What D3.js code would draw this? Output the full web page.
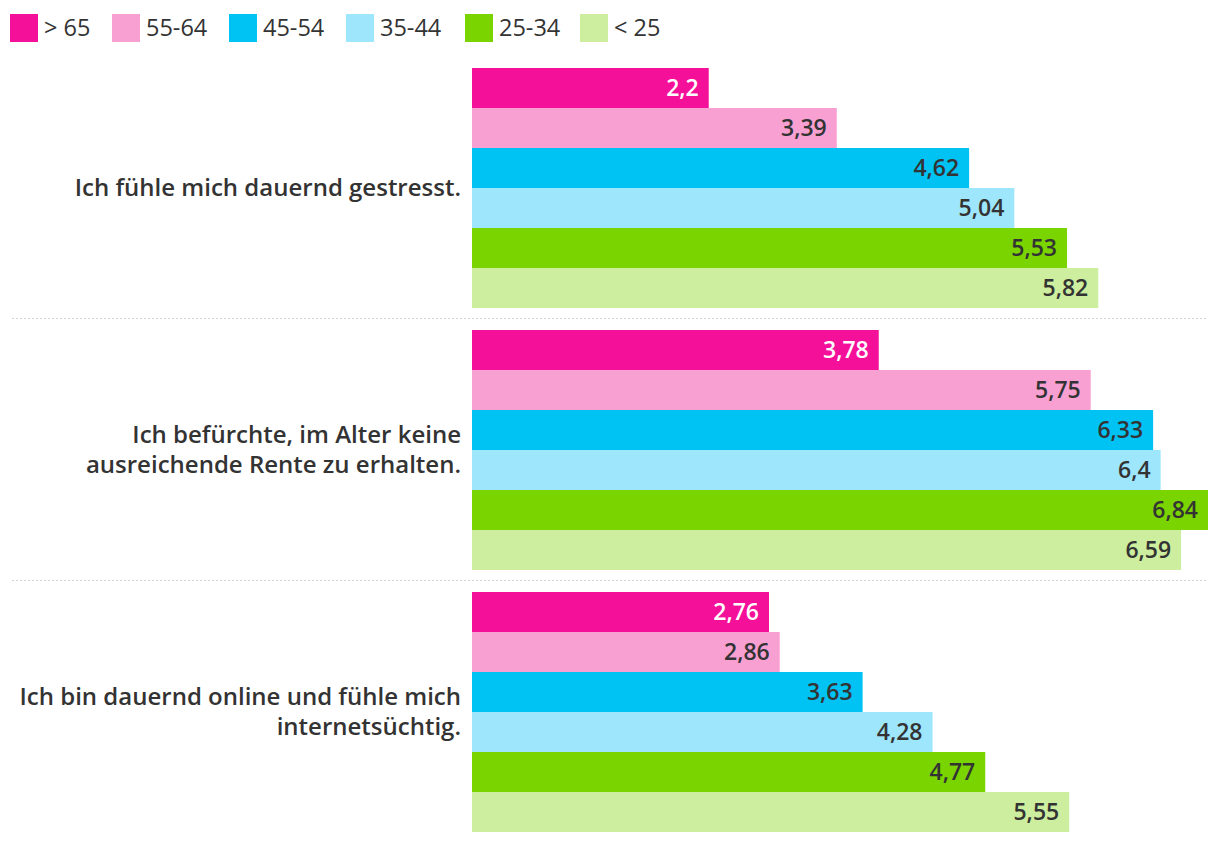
<!DOCTYPE html>
<html><head><meta charset="utf-8">
<script src="https://cdn.jsdelivr.net/npm/d3@7"></script>
<style>body{margin:0;background:#fff;font-family:"Open Sans",sans-serif;}</style>
</head><body>
<svg id="chart" width="1220" height="844"></svg>
<script>
const categories = [
  ["Ich fühle mich dauernd gestresst."],
  ["Ich befürchte, im Alter keine", "ausreichende Rente zu erhalten."],
  ["Ich bin dauernd online und fühle mich", "internetsüchtig."]
];
const seriesNames = ["> 65", "55-64", "45-54", "35-44", "25-34", "< 25"];
const seriesColors = ["#f5109a", "#f9a0d3", "#00c2f3", "#9ee6fc", "#7ad400", "#ccee9e"];
const valuesGt65 = [2.2, 3.78, 2.76];
const values5564 = [3.39, 5.75, 2.86];
const values4554 = [4.62, 6.33, 3.63];
const values3544 = [5.04, 6.4, 4.28];
const values2534 = [5.53, 6.84, 4.77];
const valuesLt25 = [5.82, 6.59, 5.55];
const seriesValues = [valuesGt65, values5564, values4554, values3544, values2534, valuesLt25];

const svg = d3.select("#chart");
const x = d3.scaleLinear().domain([0, 6.84]).range([472, 1208]);
const groupH = 240;
const y0 = d3.scaleBand().domain(d3.range(categories.length)).range([68, 68 + 262 * 3]);
const y1 = d3.scaleBand().domain(d3.range(seriesNames.length)).range([0, groupH]);

// legend
const legendX = [10, 112, 229, 346, 465, 580];
const lg = svg.append("g");
seriesNames.forEach((n, i) => {
  lg.append("rect").attr("x", legendX[i]).attr("y", 14).attr("width", 28).attr("height", 28).attr("fill", seriesColors[i]);
  lg.append("text").attr("x", legendX[i] + 34).attr("y", 36).attr("font-size", 23.5).attr("fill", "#333").text(n);
});

// separators
[0, 1].forEach(i => {
  const yy = y0(i) + groupH + 10.5;
  svg.append("line").attr("x1", 12).attr("x2", 1208).attr("y1", yy).attr("y2", yy)
    .attr("stroke", "#d4d4d4").attr("stroke-width", 1).attr("stroke-dasharray", "2,2");
});

categories.forEach((lines, ci) => {
  const g = svg.append("g").attr("transform", `translate(0,${y0(ci)})`);
  seriesNames.forEach((s, si) => {
    const v = seriesValues[si][ci];
    g.append("rect").attr("x", x(0)).attr("y", y1(si)).attr("width", x(v) - x(0)).attr("height", y1.bandwidth())
      .attr("fill", seriesColors[si]);
    g.append("text").attr("x", x(v) - 10).attr("y", y1(si) + y1.bandwidth() / 2 + 8)
      .attr("text-anchor", "end").attr("font-size", 23).attr("font-weight", 600)
      .attr("fill", si === 0 ? "#fff" : "#333").text(String(v).replace(".", ","));
  });
  const lh = 30;
  const cy = groupH / 2;
  lines.forEach((t, li) => {
    g.append("text").attr("x", 461).attr("y", cy + 7.5 + (li - (lines.length - 1) / 2) * lh)
      .attr("text-anchor", "end").attr("font-size", 24).attr("font-weight", 600).attr("fill", "#333").text(t);
  });
});
</script>
</body></html>
